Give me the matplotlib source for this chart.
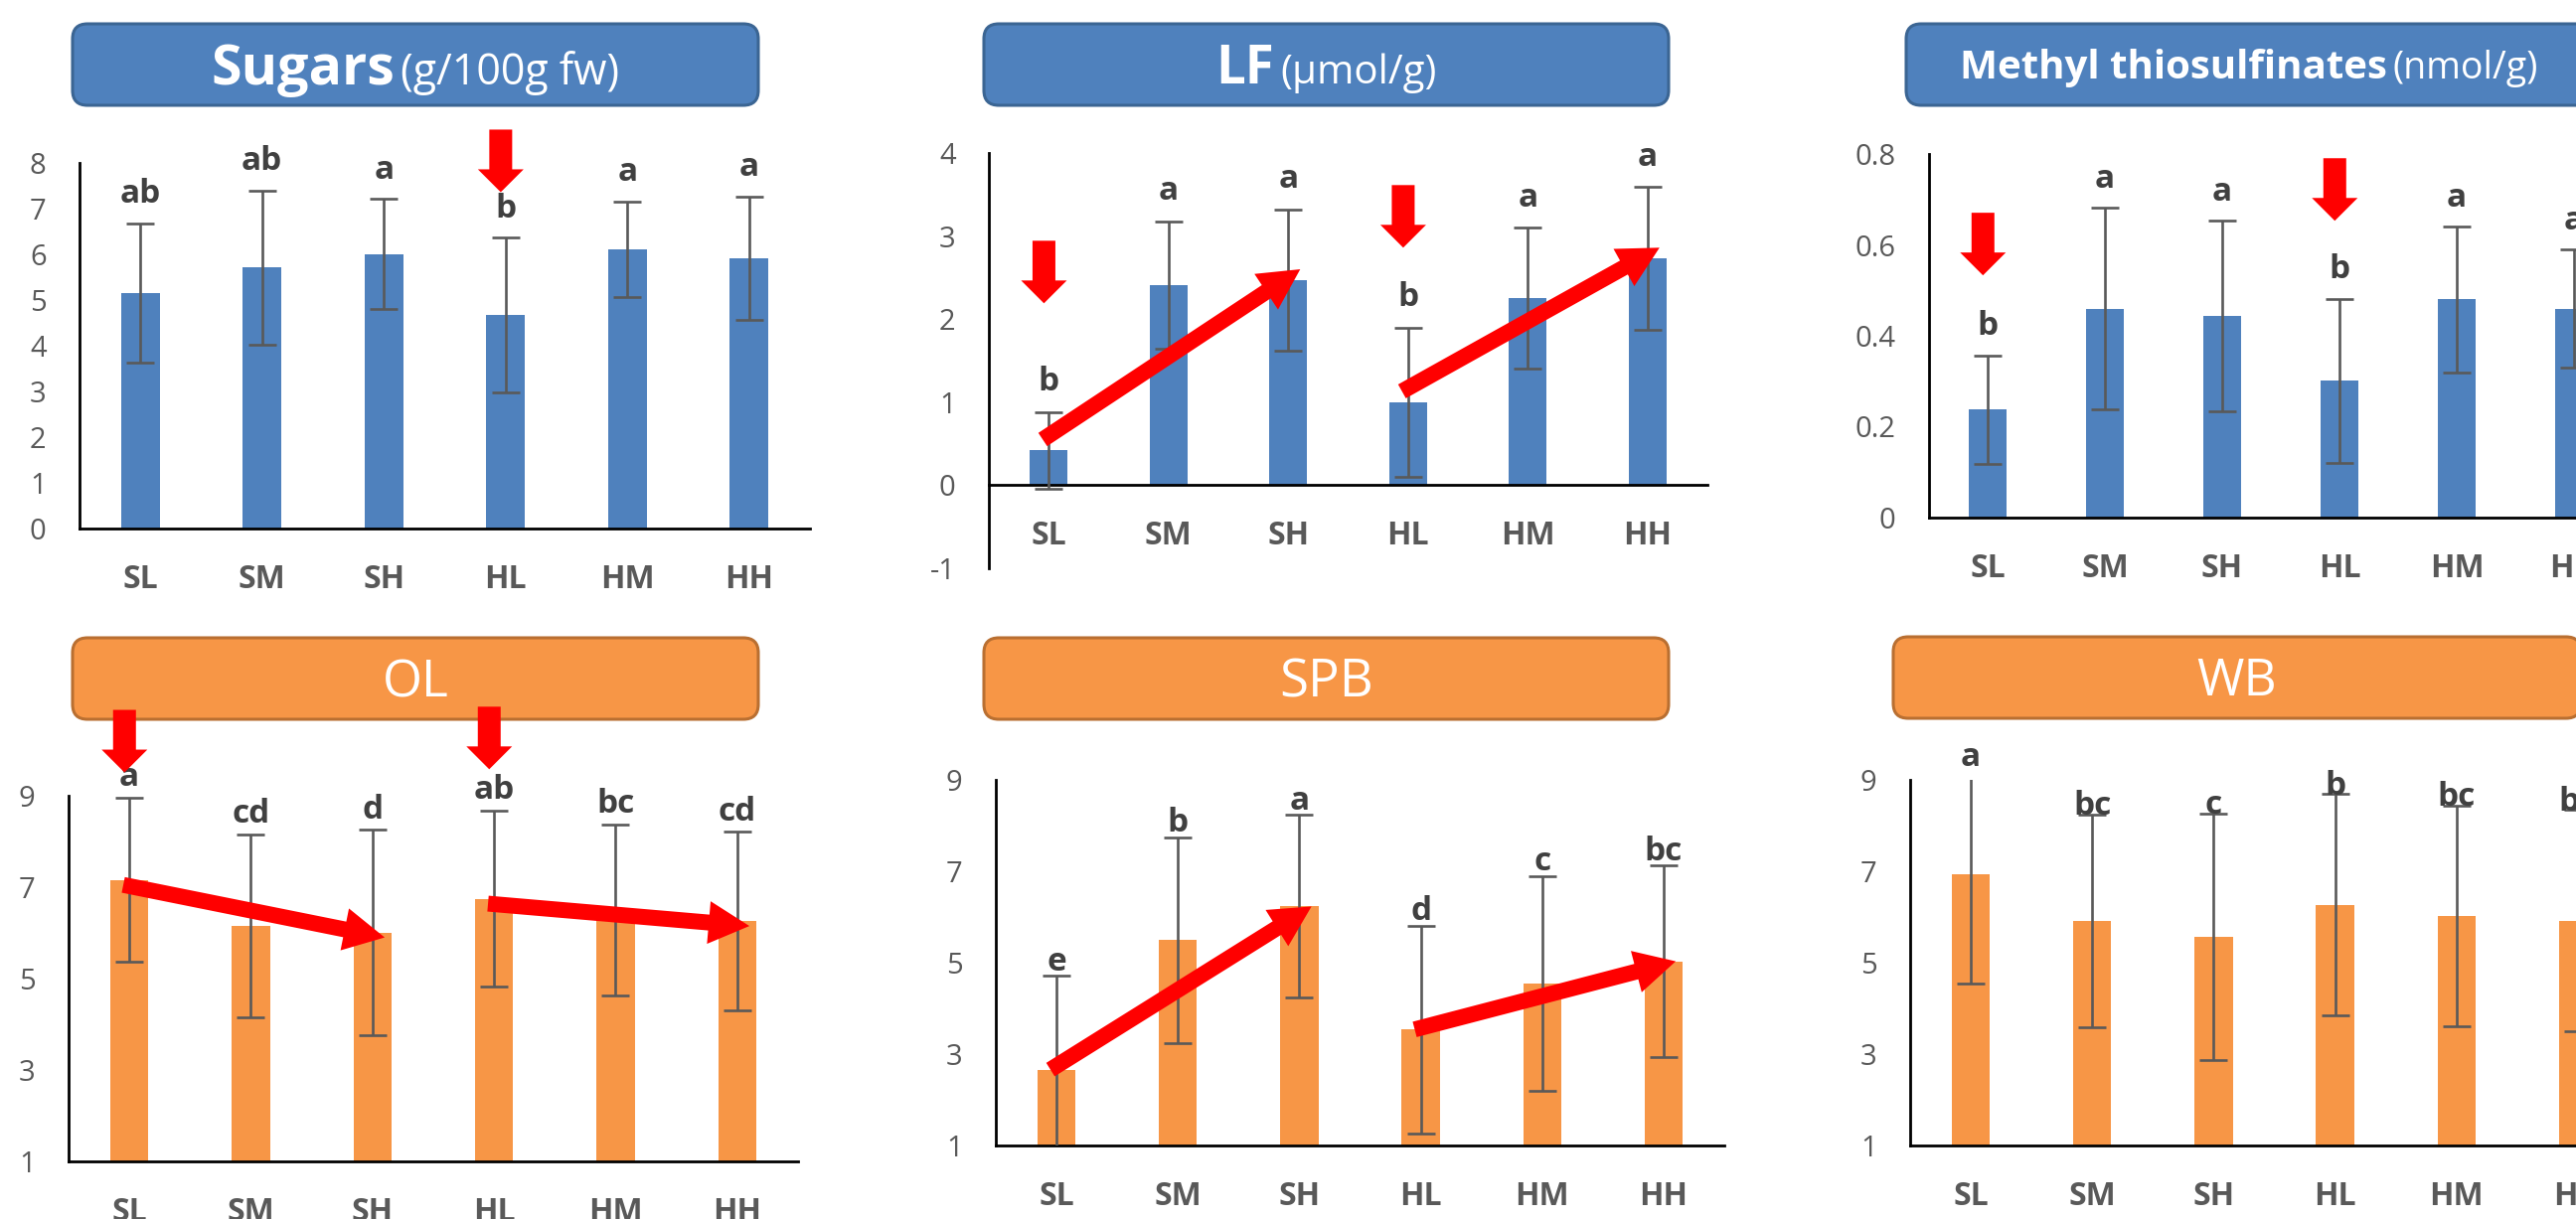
import numpy as np
import matplotlib
matplotlib.use("Agg")
import matplotlib.pyplot as plt
from matplotlib.patches import FancyBboxPatch, Polygon
from matplotlib.transforms import IdentityTransform

W, H = 2592, 1227
DPI = 100

categories = ["SL", "SM", "SH", "HL", "HM", "HH"]

sugars = [5.16, 5.71, 6.01, 4.67, 6.11, 5.92]
sugars_err = [1.52, 1.69, 1.20, 1.69, 1.05, 1.35]
sugars_letters = ["ab", "ab", "a", "b", "a", "a"]

lf = [0.42, 2.41, 2.47, 1.00, 2.25, 2.73]
lf_err = [0.46, 0.77, 0.85, 0.90, 0.85, 0.86]
lf_letters = ["b", "a", "a", "b", "a", "a"]

mts = [0.238, 0.460, 0.443, 0.301, 0.480, 0.460]
mts_err = [0.119, 0.221, 0.210, 0.180, 0.160, 0.130]
mts_letters = ["b", "a", "a", "b", "a", "a"]

ol = [7.16, 6.16, 6.01, 6.75, 6.50, 6.26]
ol_err = [1.80, 2.00, 2.25, 1.93, 1.88, 1.95]
ol_letters = ["a", "cd", "d", "ab", "bc", "cd"]

spb = [2.66, 5.50, 6.23, 3.54, 4.55, 5.03]
spb_err = [2.05, 2.25, 2.00, 2.27, 2.35, 2.10]
spb_letters = ["e", "b", "a", "d", "c", "bc"]

wb = [6.93, 5.92, 5.57, 6.27, 6.02, 5.92]
wb_err = [2.39, 2.33, 2.70, 2.42, 2.42, 2.42]
wb_letters = ["a", "bc", "c", "b", "bc", "bc"]

BLUE, BLUE_EDGE = "#4F81BD", "#3B6593"
ORANGE, ORANGE_EDGE = "#F79646", "#B96F31"
RED = "#FF0000"
GREY = "#595959"
LETTER = "#404040"

plt.rcParams["font.family"] = ["Open Sans", "DejaVu Sans"]

fig = plt.figure(figsize=(W / DPI, H / DPI), dpi=DPI)
PIX = IdentityTransform()
renderer = fig.canvas.get_renderer()

panels = [
    dict(title=("Sugars", "(g/100g fw)"), tsize=(40, 31), color=BLUE, edge=BLUE_EDGE,
         box=(73, 24, 763, 106), axes=(80, 164, 815, 532),
         values=sugars, err=sugars_err, letters=sugars_letters,
         ylim=(0, 8), yticks=[0, 1, 2, 3, 4, 5, 6, 7, 8], pad=29,
         drops=[(3, 7.36)], trends=[], dy=0),
    dict(title=("LF", "(μmol/g)"), tsize=(38, 29), color=BLUE, edge=BLUE_EDGE,
         box=(990, 24, 1679, 106), axes=(995, 154, 1718, 572),
         values=lf, err=lf_err, letters=lf_letters,
         ylim=(-1, 4), yticks=[-1, 0, 1, 2, 3, 4], pad=30,
         drops=[(0, 2.19), (3, 2.86)], trends=[(0, 2), (3, 5)], dy=0.13),
    dict(title=("Methyl thiosulfinates", "(nmol/g)"), tsize=(29, 27), color=BLUE, edge=BLUE_EDGE,
         box=(1918, 24, 2608, 106), axes=(1941, 155, 2649, 521),
         values=mts, err=mts_err, letters=mts_letters,
         ylim=(0, 0.8), yticks=[0, 0.2, 0.4, 0.6, 0.8], pad=29,
         drops=[(0, 0.533), (3, 0.653)], trends=[], dy=0),
    dict(title=("OL",), tsize=(37,), color=ORANGE, edge=ORANGE_EDGE,
         box=(73, 642, 763, 724), axes=(69, 801, 803, 1169),
         values=ol, err=ol_err, letters=ol_letters,
         ylim=(1, 9), yticks=[1, 3, 5, 7, 9], pad=20,
         drops=[(0, 9.51), (3, 9.58)], trends=[(0, 2), (3, 5)], dy=-0.11),
    dict(title=("SPB",), tsize=(38,), color=ORANGE, edge=ORANGE_EDGE,
         box=(990, 642, 1679, 724), axes=(1002, 785, 1735, 1153),
         values=spb, err=spb_err, letters=spb_letters,
         ylim=(1, 9), yticks=[1, 3, 5, 7, 9], pad=14,
         drops=[], trends=[(0, 2), (3, 5)], dy=0.0),
    dict(title=("WB",), tsize=(37,), color=ORANGE, edge=ORANGE_EDGE,
         box=(1905, 641, 2597, 723), axes=(1922, 785, 2655, 1153),
         values=wb, err=wb_err, letters=wb_letters,
         ylim=(1, 9), yticks=[1, 3, 5, 7, 9], pad=8,
         drops=[], trends=[], dy=0),
]


def block_arrow(tail, tip, shaft, head_w, head_l):
    tail = np.asarray(tail, float)
    tip = np.asarray(tip, float)
    d = tip - tail
    u = d / np.hypot(*d)
    n = np.array([-u[1], u[0]])
    base = tip - u * head_l
    pts = [tail + n * shaft / 2, base + n * shaft / 2, base + n * head_w / 2, tip,
           base - n * head_w / 2, base - n * shaft / 2, tail - n * shaft / 2]
    fig.add_artist(Polygon(pts, closed=True, transform=PIX, facecolor=RED,
                           edgecolor="none", zorder=10))


def title_box(p):
    x0, y0, x1, y1 = p["box"]
    fig.add_artist(FancyBboxPatch((x0, H - y1), x1 - x0, y1 - y0,
                                  boxstyle="round,pad=0,rounding_size=15",
                                  transform=PIX, facecolor=p["color"],
                                  edgecolor=p["edge"], linewidth=2.2, zorder=5))
    cx, cy = (x0 + x1) / 2, H - (y0 + y1) / 2
    size0 = p["tsize"][0]
    baseline = cy - 0.714 * size0 * DPI / 72 / 2
    weights = ["bold", "normal"] if len(p["title"]) > 1 else ["normal"]
    texts = []
    for s, fs, fw in zip(p["title"], p["tsize"], weights):
        t = fig.text(0, baseline, s, transform=PIX, fontsize=fs, fontweight=fw,
                     color="white", va="baseline", ha="left", zorder=6)
        texts.append(t)
    widths = [t.get_window_extent(renderer).width for t in texts]
    gap = 6 if len(texts) > 1 else 0
    x = cx - (sum(widths) + gap * (len(texts) - 1)) / 2
    for t, w in zip(texts, widths):
        t.set_x(x)
        x += w + gap


def draw_panel(p):
    l, t, r, b = p["axes"]
    ax = fig.add_axes([l / W, 1 - b / H, (r - l) / W, (b - t) / H])
    x = np.arange(len(categories))
    vals = np.array(p["values"])
    errs = np.array(p["err"])
    ax.bar(x, vals, width=0.315, color=p["color"], zorder=2)
    ax.errorbar(x, vals, yerr=errs, fmt="none", ecolor=GREY, elinewidth=1.9,
                capsize=10, capthick=1.9, zorder=3)
    ax.set_xlim(-0.5, 5.5)
    ax.set_ylim(*p["ylim"])
    ax.set_xticks(x, categories)
    ax.set_yticks(p["yticks"], [f"{v:g}" for v in p["yticks"]])
    for s in ["top", "right"]:
        ax.spines[s].set_visible(False)
    for s in ["left", "bottom"]:
        ax.spines[s].set_linewidth(2.0)
        ax.spines[s].set_color("black")
    if p["ylim"][0] < 0:
        ax.spines["bottom"].set_position(("data", 0))
    ax.tick_params(axis="both", length=0)
    ax.tick_params(axis="x", labelsize=23, labelcolor=GREY, pad=25)
    ax.tick_params(axis="y", labelsize=21, labelcolor=GREY, pad=24)
    for lab in ax.get_xticklabels():
        lab.set_fontweight("bold")
    ax.patch.set_alpha(0)

    for i, (v, e, s) in enumerate(zip(vals, errs, p["letters"])):
        ax.annotate(s, (i, v + e), xytext=(0, p["pad"]), textcoords="offset pixels",
                    ha="center", va="center", fontsize=24, fontweight="bold",
                    color=LETTER, annotation_clip=False, zorder=4)

    for i, j in p["trends"]:
        tail = ax.transData.transform((i - 0.05, vals[i] + p["dy"]))
        tip = ax.transData.transform((j + 0.1, vals[j] + p["dy"]))
        block_arrow(tail, tip, shaft=16, head_w=43, head_l=41)

    for i, ytip in p["drops"]:
        tip = ax.transData.transform((i - 0.04, ytip))
        block_arrow(tip + np.array([0, 63]), tip, shaft=23, head_w=46, head_l=23)
    return ax


for p in panels:
    draw_panel(p)
    title_box(p)

fig.savefig("out.png", dpi=DPI)
